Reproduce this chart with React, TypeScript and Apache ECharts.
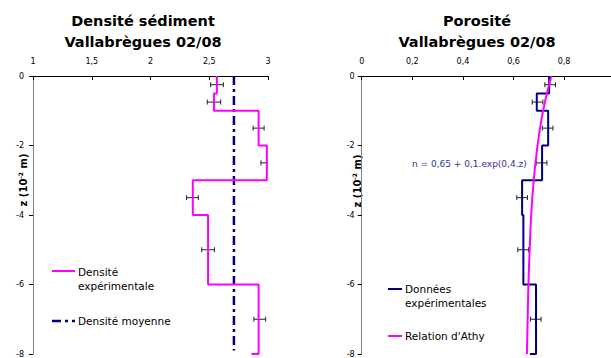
import React, { useEffect, useRef } from "react";
import * as echarts from "echarts";

// ---- Data ----
const depthEdges = [0, -0.5, -1, -2, -3, -4, -6, -8];
const densityLevels = [2.565, 2.54, 2.92, 2.99, 2.36, 2.49, 2.92];
const densityTail = 2.86;
const densityMean = 2.71;
const meanDepths = [0, -7.9];

const sampleDepths = [-0.25, -0.75, -1.5, -2.5, -3.5, -5, -7];
const densitySamples = [2.566, 2.54, 2.92, 2.99, 2.357, 2.49, 2.93];
const densityErrors = [0.054, 0.057, 0.047, 0.05, 0.05, 0.054, 0.05];

const porosityLevels = [0.741, 0.692, 0.737, 0.713, 0.634, 0.639, 0.689];
const porosityTail = 0.665;
const porositySamples = [0.745, 0.695, 0.735, 0.711, 0.634, 0.638, 0.688];
const porosityErrors = [0.021, 0.021, 0.021, 0.021, 0.021, 0.021, 0.021];

const athyDepths = [0, -0.5, -1, -1.5, -2, -3, -4, -5, -6, -7, -8];
const athyPorosity = [0.75, 0.732, 0.717, 0.705, 0.695, 0.68, 0.67, 0.664, 0.659, 0.656, 0.653];

const densityTicks = { min: 1, max: 3, interval: 0.5 };
const porosityTicks = { min: 0, max: 1, interval: 0.2 };
const depthTicks = { min: -8, max: 0, interval: 2 };

const titles = [
  ["Densité sédiment", "Vallabrègues 02/08"],
  ["Porosité", "Vallabrègues 02/08"],
];
const equationText = "n = 0,65 + 0,1.exp(0,4.z)";

const FONT = "DejaVu Sans";
const MAGENTA = "#ff00ff";
const NAVY = "#000080";

function stepPoints(levels: number[], edges: number[], tail: number) {
  const pts: number[][] = [];
  levels.forEach((v, i) => {
    pts.push([v, edges[i]]);
    pts.push([v, edges[i + 1]]);
  });
  pts.push([tail, edges[edges.length - 1]]);
  return pts;
}

function errorBarRender(params: any, api: any) {
  const x = api.value(0);
  const z = api.value(1);
  const h = api.value(2);
  const p1 = api.coord([x - h, z]);
  const p2 = api.coord([x + h, z]);
  const cap = 2.5;
  const style = { stroke: "#222", lineWidth: 1 };
  return {
    type: "group",
    children: [
      { type: "line", shape: { x1: p1[0], y1: p1[1], x2: p2[0], y2: p2[1] }, style },
      { type: "line", shape: { x1: p1[0], y1: p1[1] - cap, x2: p1[0], y2: p1[1] + cap }, style },
      { type: "line", shape: { x1: p2[0], y1: p2[1] - cap, x2: p2[0], y2: p2[1] + cap }, style },
    ],
  };
}

const fmt = (v: number) => String(+v.toFixed(2)).replace(".", ",");

function xAxisCfg(gridIndex: number, t: { min: number; max: number; interval: number }, showMax: boolean) {
  return {
    type: "value",
    gridIndex,
    position: "top",
    min: t.min,
    max: t.max,
    interval: t.interval,
    splitLine: { show: false },
    axisLine: { show: true, onZero: false, lineStyle: { color: "#000", width: 1 } },
    axisTick: { show: true, inside: true, length: 4, lineStyle: { color: "#000" } },
    axisLabel: { margin: 11, fontSize: 8, fontFamily: FONT, color: "#000", formatter: fmt, showMaxLabel: showMax },
  };
}

function yAxisCfg(gridIndex: number, margin: number) {
  return {
    type: "value",
    gridIndex,
    min: depthTicks.min,
    max: depthTicks.max,
    interval: depthTicks.interval,
    splitLine: { show: false },
    axisLine: { show: true, onZero: false, lineStyle: { color: "#808080", width: 1 } },
    axisTick: { show: true, length: 4, lineStyle: { color: "#000" } },
    axisLabel: { margin, fontSize: 8, fontFamily: FONT, color: "#000" },
  };
}

function axisName(x: number, y: number) {
  return {
    type: "text",
    x,
    y,
    rotation: Math.PI / 2,
    style: {
      text: "{a|z (10}{s|-2}{a| m)}",
      fontFamily: FONT,
      align: "center",
      verticalAlign: "middle",
      rich: {
        a: { fontSize: 10, fontWeight: "bold", fontFamily: FONT, fill: "#000", lineHeight: 12 },
        s: { fontSize: 6, fontWeight: "bold", fontFamily: FONT, fill: "#000", verticalAlign: "top", lineHeight: 12 },
      },
    },
  };
}

function label(text: string, x: number, y: number, size = 10.5, color = "#000") {
  return {
    type: "text",
    x,
    y,
    style: { text, fontFamily: FONT, fontSize: size, fill: color, align: "left", verticalAlign: "middle" },
  };
}

function titleText(text: string, x: number, y: number) {
  return {
    type: "text",
    x,
    y,
    style: { text, fontFamily: FONT, fontSize: 14.5, fontWeight: "bold", fill: "#000", align: "center", verticalAlign: "middle" },
  };
}

export default function App() {
  const ref = useRef<HTMLDivElement>(null);
  useEffect(() => {
    if (!ref.current) return;
    const chart = echarts.init(ref.current, null, { renderer: "svg" });
    const densityErr = sampleDepths.map((z, i) => [densitySamples[i], z, densityErrors[i]]);
    const porosityErr = sampleDepths.map((z, i) => [porositySamples[i], z, porosityErrors[i]]);
    const athy = athyDepths.map((z, i) => [athyPorosity[i], z]);
    const dashDot = [9, 4, 3, 4];

    chart.setOption({
      animation: false,
      backgroundColor: "#fff",
      grid: [
        { left: 33, top: 76, width: 235, height: 278 },
        { left: 361.7, top: 76, width: 253, height: 280 },
      ],
      xAxis: [xAxisCfg(0, densityTicks, true), xAxisCfg(1, porosityTicks, false)],
      yAxis: [yAxisCfg(0, 9), yAxisCfg(1, 7)],
      series: [
        {
          type: "line",
          xAxisIndex: 0,
          yAxisIndex: 0,
          data: meanDepths.map((z) => [densityMean, z]),
          symbol: "none",
          lineStyle: { color: NAVY, width: 2.5, type: dashDot },
        },
        {
          type: "line",
          xAxisIndex: 0,
          yAxisIndex: 0,
          data: stepPoints(densityLevels, depthEdges, densityTail),
          symbol: "none",
          lineStyle: { color: MAGENTA, width: 2 },
        },
        {
          type: "custom",
          xAxisIndex: 0,
          yAxisIndex: 0,
          data: densityErr,
          encode: { x: 0, y: 1 },
          clip: true,
          renderItem: errorBarRender,
        },
        {
          type: "line",
          xAxisIndex: 1,
          yAxisIndex: 1,
          data: stepPoints(porosityLevels, depthEdges, porosityTail),
          symbol: "none",
          lineStyle: { color: NAVY, width: 2 },
        },
        {
          type: "line",
          xAxisIndex: 1,
          yAxisIndex: 1,
          data: athy,
          smooth: true,
          symbol: "none",
          lineStyle: { color: MAGENTA, width: 2 },
        },
        {
          type: "custom",
          xAxisIndex: 1,
          yAxisIndex: 1,
          data: porosityErr,
          encode: { x: 0, y: 1 },
          clip: true,
          renderItem: errorBarRender,
        },
      ],
      graphic: [
        titleText(titles[0][0], 143, 21),
        titleText(titles[0][1], 143, 42),
        titleText(titles[1][0], 477, 21),
        titleText(titles[1][1], 477, 42),
        axisName(23, 180),
        axisName(357, 181),
        // left legend
        { type: "line", shape: { x1: 52, y1: 271, x2: 75, y2: 271 }, style: { stroke: MAGENTA, lineWidth: 2 } },
        label("Densité", 78, 272),
        label("expérimentale", 78, 286),
        { type: "line", shape: { x1: 52, y1: 321, x2: 75, y2: 321 }, style: { stroke: NAVY, lineWidth: 2.5, lineDash: dashDot } },
        label("Densité moyenne", 78, 321),
        // right legend
        { type: "line", shape: { x1: 388, y1: 289, x2: 402, y2: 289 }, style: { stroke: NAVY, lineWidth: 2 } },
        label("Données", 405, 289),
        label("expérimentales", 405, 303),
        { type: "line", shape: { x1: 388, y1: 336, x2: 402, y2: 336 }, style: { stroke: MAGENTA, lineWidth: 2 } },
        label("Relation d'Athy", 405, 336),
        label(equationText, 412, 164, 9, "#333399"),
      ],
    });
    return () => chart.dispose();
  }, []);
  return (
    <div style={{ position: "absolute", left: 0, top: 0, width: 611, height: 358, overflow: "hidden" }}>
      <div ref={ref} style={{ width: 640, height: 358 }} />
    </div>
  );
}
